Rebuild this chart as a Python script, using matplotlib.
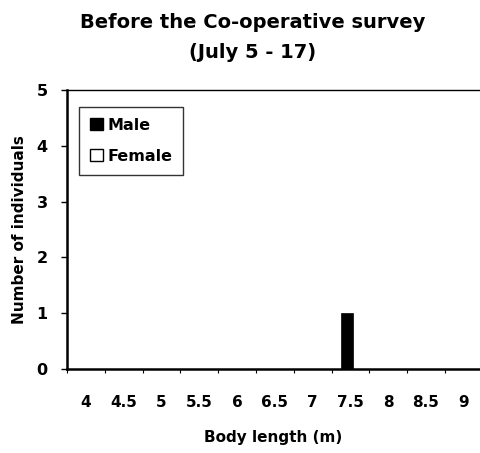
import matplotlib
matplotlib.use("Agg")
import matplotlib.pyplot as plt
import numpy as np
from matplotlib.patches import Patch

plt.rcParams['font.family'] = ['DejaVu Sans']
plt.rcParams['font.weight'] = 'bold'

categories = ['4', '4.5', '5', '5.5', '6', '6.5', '7', '7.5', '8', '8.5', '9']
male = [0, 0, 0, 0, 0, 0, 0, 1, 0, 0, 0]
female = [0, 0, 0, 0, 0, 0, 0, 0, 0, 0, 0]

fig = plt.figure(figsize=(4.8, 4.53), dpi=100)
ax = fig.add_axes([67/480, 1-369/453, 1-67/480, (369-90)/453])

x = np.arange(len(categories))
w = 0.32
ax.bar(x - 0.08, male, width=w, color='black', edgecolor='black', linewidth=0.5, label='Male')
ax.bar(x + 0.24, female, width=w, color='white', edgecolor='black', linewidth=0.5, label='Female')

ax.set_xlim(-0.5, 10.43)
ax.set_ylim(0, 5)
ax.set_yticks([0, 1, 2, 3, 4, 5])
ax.set_yticklabels(['0', '1', '2', '3', '4', '5'], fontsize=11.5, fontweight='bold')
ax.set_xticks(x)
ax.set_xticklabels(categories, fontsize=11, fontweight='bold')
ax.set_xticks(np.arange(-0.5, 10.5, 1), minor=True)
ax.tick_params(axis='x', which='major', length=0, pad=19)
ax.tick_params(axis='x', which='minor', length=3, width=0.8, direction='out')
ax.tick_params(axis='y', length=4, width=1, direction='out', pad=10)

ax.spines['right'].set_visible(False)
ax.spines['left'].set_linewidth(1.8)
ax.spines['bottom'].set_linewidth(1.8)
ax.spines['top'].set_linewidth(1.0)
ax.spines['top'].set_linestyle((0, (6, 1)))

ax.set_ylabel('Number of individuals', fontsize=11, fontweight='bold', labelpad=7)
ax.set_xlabel('Body length (m)', fontsize=11, fontweight='bold', labelpad=14)

handles = [Patch(facecolor='black', edgecolor='black', label='Male'),
           Patch(facecolor='white', edgecolor='black', label='Female')]
leg = ax.legend(handles=handles, loc='upper left', bbox_to_anchor=(0.028, 0.94),
                fontsize=11.5, frameon=True, fancybox=False, edgecolor='black',
                handlelength=0.8, handleheight=0.8, handletextpad=0.3,
                borderpad=0.7, labelspacing=1.0, borderaxespad=0.0)
leg.get_frame().set_linewidth(1.0)
for t in leg.get_texts():
    t.set_fontweight('bold')

fig.text(0.527, 1-22/453, 'Before the Co-operative survey', ha='center', va='center',
         fontsize=14, fontweight='bold')
fig.text(0.527, 1-52/453, '(July 5 - 17)', ha='center', va='center',
         fontsize=14, fontweight='bold')

fig.savefig('out.png', dpi=100, facecolor='white')
